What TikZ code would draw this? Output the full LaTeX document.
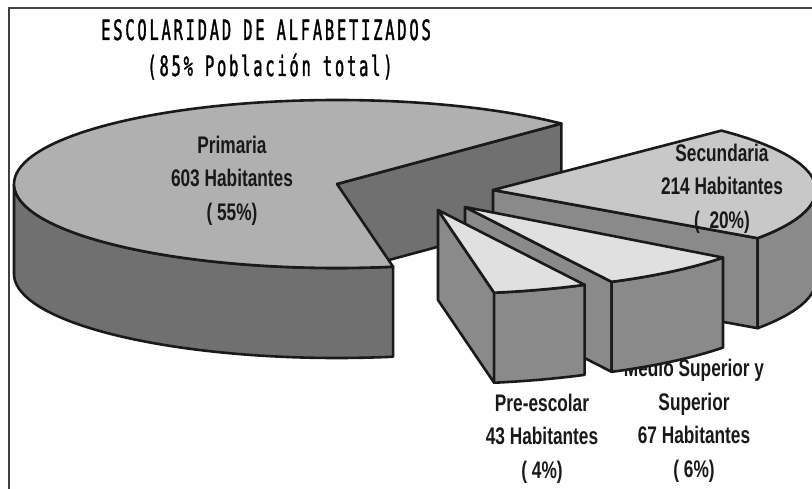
\documentclass[tikz,border=0pt]{standalone}
\usepackage{fontspec}
\newfontfamily\titlefnt[FakeStretch=0.55,LetterSpace=10,FakeBold=1.2]{DejaVu Sans Mono}
\newfontfamily\lblfnt[FakeStretch=0.72]{Liberation Sans}
\definecolor{primtop}{HTML}{B0B0B0}
\definecolor{primside}{HTML}{707070}
\definecolor{sectop}{HTML}{C8C8C8}
\definecolor{slab}{HTML}{8A8A8A}
\definecolor{lighttop}{HTML}{E0E0E0}
\definecolor{outline}{HTML}{1A1A1A}
\tikzset{
  edge/.style={draw=outline,line width=2.6pt,line join=round},
  pie/.style={x radius=323,y radius=84},
  lbl/.style={font={\lblfnt\bfseries\fontsize{24}{33.5}\selectfont},align=center,text=black!90,inner sep=0pt},
  ttl/.style={font={\titlefnt\fontsize{28}{30}\selectfont},text=black,inner sep=0pt,anchor=base}
}
\begin{document}
\begin{tikzpicture}[x=1pt,y=1pt]
	   \useasboundingbox (0,0) rectangle (812,-489);
	   \draw[draw=black!75,line width=2pt] (9,-489) -- (9,-8) -- (812,-8);
	   \node[ttl] (title) at (266,-40) {ESCOLARIDAD DE ALFABETIZADOS};
	   \node[ttl] (subtitle) at (270,-76) {(85\% Población total)};
	   % label under the slice
	   \node[lbl] (lmedio) at (694,-421) {Medio Superior y\\Superior\\67 Habitantes\\( 6\%)};
	   \coordinate (cprim) at (337,-184);
	   \coordinate (csec) at (493,-190);
	   \coordinate (cmed) at (465,-207);
	   \coordinate (cpre) at (438,-210);
	   % Primaria, cut face
	   \filldraw[edge,fill=primside] (cprim) -- ++(46:323 and 84) -- ++(0,-90) -- ++(-224.4,-60.4) -- cycle;
	   % Secundaria
	   \filldraw[edge,fill=slab] (csec) -- ++(-35:323 and 84) -- ++(0,-90) -- ++(-264.6,48.2) -- cycle;
	   \filldraw[edge,fill=slab] (csec) ++(-35:323 and 84) arc[pie,start angle=-35,end angle=0] -- ++(0,-90) arc[pie,start angle=0,end angle=-35] -- cycle;
	   \filldraw[edge,fill=sectop] (csec) -- ++(45:323 and 84) arc[pie,start angle=45,end angle=-35] -- cycle;
	   % Primaria
	   \filldraw[edge,fill=primside] (cprim) ++(180:323 and 84) arc[pie,start angle=180,end angle=280] -- ++(0,-90) arc[pie,start angle=280,end angle=180] -- cycle;
	   \filldraw[edge,fill=primtop] (cprim) -- ++(46:323 and 84) arc[pie,start angle=46,end angle=280] -- cycle;
	   % Medio Superior y Superior
	   \filldraw[edge,fill=slab] (cmed) -- ++(-63:323 and 84) -- ++(0,-90) -- ++(-146.6,74.8) -- cycle;
	   \filldraw[edge,fill=slab] (cmed) ++(-63:323 and 84) arc[pie,start angle=-63,end angle=-37] -- ++(0,-90) arc[pie,start angle=-37,end angle=-63] -- cycle;
	   \filldraw[edge,fill=lighttop] (cmed) -- ++(-37:323 and 84) arc[pie,start angle=-37,end angle=-63] -- cycle;
	   % Pre-escolar
	   \filldraw[edge,fill=slab] (cpre) -- ++(-80:323 and 84) -- ++(0,-90) -- ++(-56.1,82.7) -- cycle;
	   \filldraw[edge,fill=slab] (cpre) ++(-80:323 and 84) arc[pie,start angle=-80,end angle=-63] -- ++(0,-90) arc[pie,start angle=-63,end angle=-80] -- cycle;
	   \filldraw[edge,fill=lighttop] (cpre) -- ++(-63:323 and 84) arc[pie,start angle=-63,end angle=-80] -- cycle;
	   % labels
	   \node[lbl] (lprim) at (232,-180.5) {Primaria\\603 Habitantes\\( 55\%)};
	   \node[lbl] (lsec) at (722,-188.5) {Secundaria\\214 Habitantes\\(\ \ 20\%)};
	   \node[lbl] (lpre) at (542,-438.5) {Pre-escolar\\43 Habitantes\\( 4\%)};
\end{tikzpicture}
\end{document}
